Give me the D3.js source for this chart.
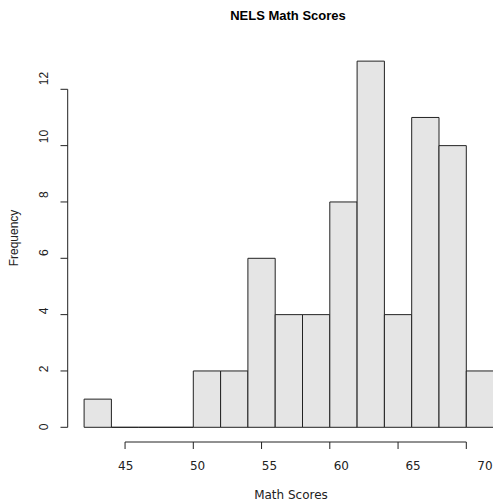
<!DOCTYPE html>
<html><head><meta charset="utf-8">
<script src="https://cdn.jsdelivr.net/npm/d3@7"></script>
<style>body{margin:0;background:#fff;overflow:hidden}</style>
</head><body>
<script>
const binStarts = [42,44,46,48,50,52,54,56,58,60,62,64,66,68,70];
const binWidth = 2;
const counts = [1,0,0,0,2,2,6,4,4,8,13,4,11,10,2];
const xTicks = [45,50,55,60,65,70];
const yTicks = [0,2,4,6,8,10,12];
const title = "NELS Math Scores";
const xTitle = "Math Scores";
const yTitle = "Frequency";

const W = 493, H = 502;
const svg = d3.select("body").append("svg").attr("width", W).attr("height", H);

const x = d3.scaleLinear().domain([50,70]).range([193.3,466.3]);
const y = d3.scaleLinear().domain([0,12]).range([427.3,89.3]);
// tick-label placement scales (labels sit slightly offset from ticks in the reference)
const xl = d3.scaleLinear().domain([45,70]).range([125.7,485]);
const yl = d3.scaleLinear().domain([0,12]).range([427,78.5]);

const data = binStarts.map((s,i)=>({x0:s,x1:s+binWidth,n:counts[i]}));

svg.append("g").selectAll("path").data(data).join("path")
  .attr("d", d=>{
    const x0=x(d.x0), x1=x(d.x1), y0=y(0), y1=y(d.n);
    return `M${x0},${y0}L${x0},${y1}L${x1},${y1}L${x1},${y0}Z`;
  })
  .attr("fill","#e5e5e5").attr("stroke","#222").attr("stroke-width",1);

// x axis
const gx = svg.append("g");
gx.append("line").attr("x1",x(xTicks[0])).attr("x2",x(xTicks[xTicks.length-1]))
  .attr("y1",442).attr("y2",442).attr("stroke","#222");
gx.selectAll("line.t").data(xTicks).join("line").attr("class","t")
  .attr("x1",d=>x(d)).attr("x2",d=>x(d)).attr("y1",442).attr("y2",449).attr("stroke","#222");
gx.selectAll("text").data(xTicks).join("text")
  .attr("x",d=>xl(d)).attr("y",470).attr("text-anchor","middle")
  .attr("font-family","DejaVu Sans").attr("font-size",12).attr("fill","#222").text(d=>d);

// y axis
const gy = svg.append("g");
gy.append("line").attr("x1",67.7).attr("x2",67.7)
  .attr("y1",y(yTicks[0])).attr("y2",y(yTicks[yTicks.length-1])).attr("stroke","#222");
gy.selectAll("line.t").data(yTicks).join("line").attr("class","t")
  .attr("x1",60.5).attr("x2",67.7).attr("y1",d=>y(d)).attr("y2",d=>y(d)).attr("stroke","#222");
gy.selectAll("text").data(yTicks).join("text")
  .attr("transform",d=>`translate(48,${yl(d)}) rotate(-90)`).attr("text-anchor","middle")
  .attr("font-family","Liberation Sans, Arial").attr("font-size",12).attr("fill","#222").text(d=>d);

svg.append("text").attr("x",288).attr("y",20).attr("text-anchor","middle")
  .attr("font-family","Liberation Sans, Arial").attr("font-weight","bold").attr("font-size",13).text(title);
svg.append("text").attr("x",291).attr("y",499).attr("text-anchor","middle")
  .attr("font-family","DejaVu Sans").attr("font-size",12).attr("fill","#222").text(xTitle);
svg.append("text").attr("transform","translate(18,238) rotate(-90)").attr("text-anchor","middle")
  .attr("font-family","Liberation Sans, Arial").attr("font-size",12).attr("fill","#222").text(yTitle);
</script>
</body></html>
